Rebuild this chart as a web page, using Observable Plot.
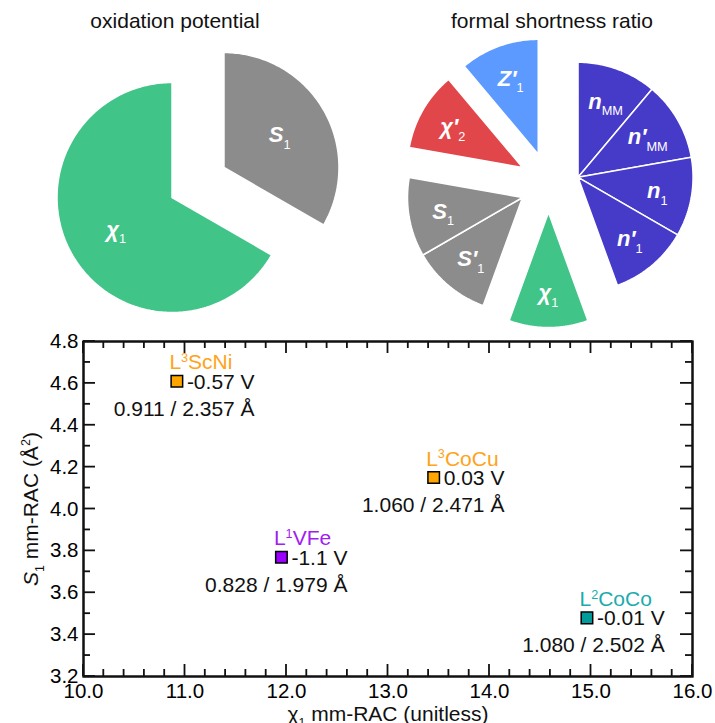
<!DOCTYPE html>
<html>
<head>
<meta charset="utf-8">
<script src="https://cdn.jsdelivr.net/npm/d3@7"></script>
<script src="https://cdn.jsdelivr.net/npm/@observablehq/plot@0.6"></script>
<style>
  html, body { margin: 0; padding: 0; background: #fff; }
  #wrap { position: relative; width: 715px; height: 723px; overflow: hidden;
          font-family: "Liberation Sans", Arial, Helvetica, sans-serif; }
  .ptitle { position: absolute; top: 10px; font-size: 21px; line-height: 21px;
            transform: translateX(-50%); white-space: nowrap; color: #111; }
</style>
</head>
<body>
<div id="wrap"></div>
<script>
// ---------------- data ----------------
const pieTitles = ["oxidation potential", "formal shortness ratio"];

// oxidation potential pie (clockwise from 12 o'clock)
const oxLabels = ["S_{1}", "χ_{1}"];
const oxValues = [1, 2];
const oxGroups = ["S", "chi"];

// formal shortness ratio pie (clockwise from 12 o'clock)
const fsLabels = ["n_{MM}", "n′_{MM}", "n_{1}", "n′_{1}", "χ_{1}", "S′_{1}", "S_{1}", "χ′_{2}", "Z′_{1}"];
const fsValues = [1, 1, 1, 1, 1, 1, 1, 1, 1];
const fsGroups = ["n", "n", "n", "n", "chi", "S", "S", "chi2", "Z"];

// scatter
const complexes  = ["L^{3}ScNi", "L^{1}VFe", "L^{3}CoCu", "L^{2}CoCo"];
const chi1       = [10.92, 11.95, 13.45, 14.96];
const s1         = [4.61, 3.77, 4.15, 3.48];
const potentials = ["-0.57 V", "-1.1 V", "0.03 V", "-0.01 V"];
const ratios     = ["0.911 / 2.357 Å", "0.828 / 1.979 Å", "1.060 / 2.471 Å", "1.080 / 2.502 Å"];

const xTicks = [10, 11, 12, 13, 14, 15, 16];
const yTicks = [3.2, 3.4, 3.6, 3.8, 4.0, 4.2, 4.4, 4.6, 4.8];
const xLabel = "χ_{1} mm-RAC (unitless)";
const yLabel = "*{S}_{1} mm-RAC (Å^{2})";

// ---------------- styles ----------------
const FONT = '"Liberation Sans", Arial, Helvetica, sans-serif';
const groupColors = { n: "#463ac8", chi: "#40c487", S: "#8c8c8c", chi2: "#e1464b", Z: "#5c9aff" };
const pointFill = { "L^{3}ScNi": "#ffa500", "L^{1}VFe": "#9b00ff", "L^{3}CoCu": "#ffa500", "L^{2}CoCo": "#009c9c" };
const nameFill  = { "L^{3}ScNi": "#ffa31a", "L^{1}VFe": "#a020f0", "L^{3}CoCu": "#ffa31a", "L^{2}CoCo": "#1aacac" };

// rich text: _{sub}, ^{sup}, *{italic}
function richify(svg) {
  d3.select(svg).selectAll("text").each(function () {
    const t = this.textContent;
    if (!/[_^*]\{/.test(t)) return;
    const parts = t.split(/([_^*]\{[^}]*\})/).filter(p => p !== "");
    while (this.firstChild) this.removeChild(this.firstChild);
    let cur = 0;
    for (const p of parts) {
      const m = p.match(/^([_^*])\{([^}]*)\}$/);
      const ts = document.createElementNS("http://www.w3.org/2000/svg", "tspan");
      let target = 0, k = 1;
      if (m && m[1] === "_") { target = 0.3; k = 0.58; }
      if (m && m[1] === "^") { target = -0.34; k = 0.6; }
      if (k !== 1) {
        ts.setAttribute("font-size", (k * 100) + "%");
        ts.setAttribute("font-weight", "normal");
        ts.setAttribute("font-style", "normal");
      }
      if (m && m[1] === "*") ts.setAttribute("font-style", "italic");
      const delta = target - cur;
      if (delta !== 0) ts.setAttribute("dy", (delta / k).toFixed(3) + "em");
      cur = target;
      ts.textContent = m ? m[2] : p;
      this.appendChild(ts);
    }
  });
}

function textW(s) {
  const sp = document.createElement("span");
  sp.style.cssText = 'position:absolute;visibility:hidden;white-space:pre;font:21px "Liberation Sans", Arial, sans-serif;';
  sp.textContent = s;
  document.body.appendChild(sp);
  const w = sp.getBoundingClientRect().width;
  sp.remove();
  return w;
}

// ---------------- pies ----------------
const W = 715, H = 723;
const PIE_H = 330, R = 115, EXPLODE = 30;

function pieGeometry(labels, values, groups, cx, cy, labelFrac, tag) {
  const total = d3.sum(values);
  let a = 0;
  const slices = labels.map((lab, i) => {
    const a0 = a; a += values[i] / total * 2 * Math.PI;
    return { lab, g: groups[i], a0, a1: a, id: tag + i };
  });
  const gmid = d3.rollup(slices, v => (d3.min(v, d => d.a0) + d3.max(v, d => d.a1)) / 2, d => d.g);
  const poly = [], lbl = [];
  for (const s of slices) {
    const m = gmid.get(s.g);
    const ax = cx + EXPLODE * Math.sin(m), ay = cy - EXPLODE * Math.cos(m);
    const fill = groupColors[s.g];
    poly.push({ id: s.id, x: ax, y: ay, fill });
    const n = Math.max(2, Math.ceil((s.a1 - s.a0) / (Math.PI / 180)));
    for (let j = 0; j <= n; j++) {
      const t = s.a0 + (s.a1 - s.a0) * j / n;
      poly.push({ id: s.id, x: ax + R * Math.sin(t), y: ay - R * Math.cos(t), fill });
    }
    poly.push({ id: s.id, x: ax, y: ay, fill });
    const sm = (s.a0 + s.a1) / 2;
    lbl.push({ text: s.lab, x: ax + labelFrac * R * Math.sin(sm), y: ay - labelFrac * R * Math.cos(sm) });
  }
  return { poly, lbl };
}

const leftPie = pieGeometry(oxLabels, oxValues, oxGroups, 197.5, 182, 0.56, "ox");
const rightPie = pieGeometry(fsLabels, fsValues, fsGroups, 548, 182, 0.70, "fs");

const pieSvg = Plot.plot({
  width: W, height: PIE_H, margin: 0,
  x: { domain: [0, W], range: [0, W], axis: null },
  y: { domain: [0, PIE_H], range: [0, PIE_H], axis: null },
  color: { type: "identity" },
  style: { fontFamily: FONT },
  marks: [
    Plot.line([...leftPie.poly, ...rightPie.poly], {
      x: "x", y: "y", z: "id", fill: "fill", stroke: "white", strokeWidth: 1.5, strokeLinejoin: "miter"
    }),
    Plot.text([...leftPie.lbl, ...rightPie.lbl], {
      x: "x", y: "y", text: "text", fill: "white", fontSize: 22,
      fontStyle: "italic", fontWeight: "bold", textAnchor: "middle", lineAnchor: "middle"
    })
  ]
});
richify(pieSvg);

// ---------------- scatter ----------------
const SC_H = H - PIE_H;
const mL = 83, mR = 23, mT = 341 - PIE_H, mB = 47;
const fw = W - mL - mR, fh = SC_H - mT - mB;
const xDom = [10, 16], yDom = [3.2, 4.8];
const pxX = fw / (xDom[1] - xDom[0]), pxY = fh / (yDom[1] - yDom[0]);
const xMinor = d3.range(10, 16.0001, 0.2).filter(v => Math.abs(v - Math.round(v)) > 1e-6);
const yMinor = d3.range(3.2, 4.8001, 0.1).filter(v => Math.abs(v * 5 - Math.round(v * 5)) > 1e-6);

const pts = complexes.map((name, i) => ({ name, x: chi1[i], y: s1[i], pot: potentials[i], ratio: ratios[i] }));

// inward ticks on all four sides, as thin filled bars (pixel lengths converted via scale resolution)
const TICK = 12, MINOR = 7, TW = 1.8;
const hx = TW / 2 / pxX, hy = TW / 2 / pxY;
const tickBars = [];
for (const [vals, len] of [[xTicks, TICK], [xMinor, MINOR]]) for (const v of vals) {
  tickBars.push({ x1: v - hx, x2: v + hx, y1: yDom[0], y2: yDom[0] + len / pxY });
  tickBars.push({ x1: v - hx, x2: v + hx, y1: yDom[1] - len / pxY, y2: yDom[1] });
}
for (const [vals, len] of [[yTicks, TICK], [yMinor, MINOR]]) for (const v of vals) {
  tickBars.push({ y1: v - hy, y2: v + hy, x1: xDom[0], x2: xDom[0] + len / pxX });
  tickBars.push({ y1: v - hy, y2: v + hy, x1: xDom[1] - len / pxX, x2: xDom[1] });
}

const scatter = Plot.plot({
  width: W, height: SC_H,
  marginLeft: mL, marginRight: mR, marginTop: mT, marginBottom: mB,
  x: { domain: xDom },
  y: { domain: yDom },
  style: { fontFamily: FONT, fontSize: "20.5px" },
  marks: [
    Plot.frame({ stroke: "#111", strokeWidth: 2 }),
    Plot.axisX(xTicks, { tickSize: 0, tickPadding: 7, tickFormat: d => d.toFixed(1), label: null }),
    Plot.axisY(yTicks, { tickSize: 0, tickPadding: 5, tickFormat: d => d.toFixed(1), label: null }),
    Plot.text([xLabel], { text: d => d, frameAnchor: "bottom", textAnchor: "middle", lineAnchor: "bottom", dy: 44, fontSize: 21, fill: "#111" }),
    Plot.text([yLabel], { text: d => d, frameAnchor: "left", textAnchor: "middle", rotate: -90, lineAnchor: "bottom", dx: -46, fontSize: 21, fill: "#111" }),
    // points and annotations
    ...pts.map(p => Plot.dot([p], { x: "x", y: "y", symbol: "square", r: 6.5, fill: pointFill[p.name], stroke: "black", strokeWidth: 1.5 })),
    ...pts.map(p => Plot.text([p], { x: "x", y: "y", text: "name", fill: nameFill[p.name], textAnchor: "start", lineAnchor: "bottom", dx: -7.5, dy: -12, fontSize: 21 })),
    Plot.text(pts, { x: "x", y: "y", text: "pot", fill: "#111", textAnchor: "start", lineAnchor: "bottom", dx: 10, dy: 7.5, fontSize: 21 }),
    ...pts.map(p => Plot.text([p], { x: "x", y: "y", text: "ratio", fill: "#111", textAnchor: "end", lineAnchor: "bottom", dx: 10 + textW(p.pot), dy: 34.5, fontSize: 21 }))
  ]
});
richify(scatter);

// tick overlay: same scales and frame, drawn on top of the scatter
const tickSvg = Plot.plot({
  width: W, height: SC_H,
  marginLeft: mL, marginRight: mR, marginTop: mT, marginBottom: mB,
  x: { domain: xDom, axis: null },
  y: { domain: yDom, axis: null },
  style: { position: "absolute", left: "0px", top: PIE_H + "px", background: "transparent" },
  marks: [
    Plot.rect(tickBars, { x1: "x1", x2: "x2", y1: "y1", y2: "y2", fill: "red", fillOpacity: 0 }),
    Plot.rect(tickBars, { x1: "x1", x2: "x2", y1: "y1", y2: "y2", fill: "#111" }),
    Plot.frame({ stroke: "#111", strokeWidth: 2 })
  ]
});

const wrap = document.getElementById("wrap");
wrap.appendChild(pieSvg);
wrap.appendChild(scatter);
wrap.appendChild(tickSvg);
[[pieTitles[0], 175], [pieTitles[1], 552]].forEach(([t, cx]) => {
  const d = document.createElement("div");
  d.className = "ptitle";
  d.style.left = cx + "px";
  d.textContent = t;
  wrap.appendChild(d);
});
</script>
</body>
</html>
